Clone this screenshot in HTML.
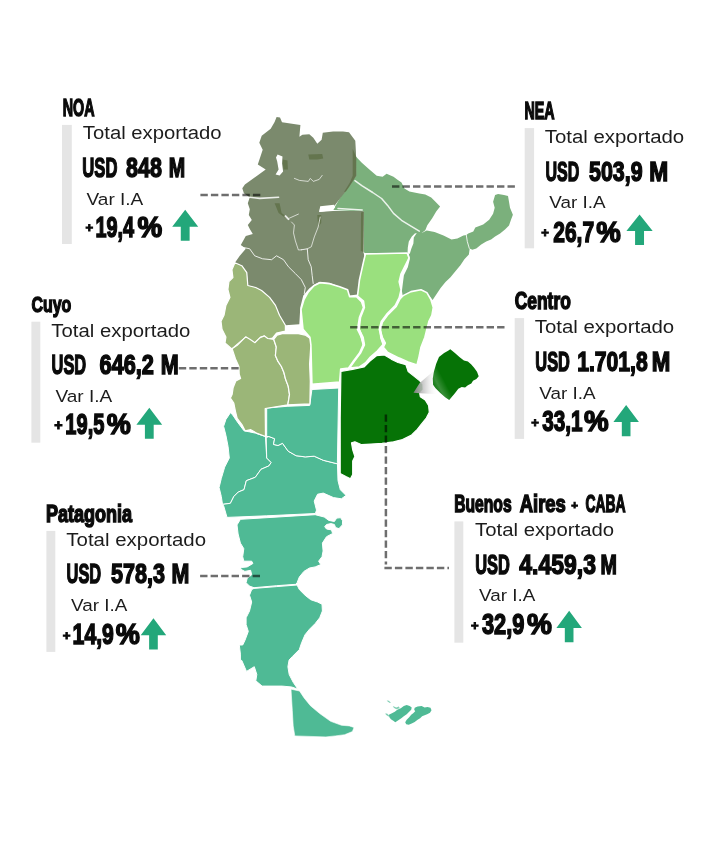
<!DOCTYPE html>
<html lang="es"><head><meta charset="utf-8"><title>Exportaciones por región</title>
<style>
html,body{margin:0;padding:0;background:#fff}
svg{display:block}
text{fill:#0a0a0a;white-space:pre}
.b{font-family:"Liberation Sans",sans-serif;font-weight:700;stroke:#0a0a0a;stroke-width:1.5px;stroke-linejoin:miter}
.r{font-family:"Liberation Sans",sans-serif;font-weight:400;fill:#1c1c1c}
</style></head><body>
<svg width="706" height="849" viewBox="0 0 706 849">
<defs><linearGradient id="cg" gradientUnits="userSpaceOnUse" x1="413.5" y1="0" x2="437.9" y2="0"><stop offset="0" stop-color="#808080" stop-opacity="0.95"/><stop offset="0.3" stop-color="#b5b5b5" stop-opacity="0.9"/><stop offset="0.6" stop-color="#dddddd" stop-opacity="0.7"/><stop offset="1" stop-color="#ffffff" stop-opacity="0"/></linearGradient>
<linearGradient id="hl" gradientUnits="userSpaceOnUse" x1="432.2" y1="386.5" x2="444.1" y2="380.2"><stop offset="0" stop-color="#fff" stop-opacity="0"/><stop offset="0.45" stop-color="#fff" stop-opacity="0.2"/><stop offset="1" stop-color="#fff" stop-opacity="0"/></linearGradient></defs>
<rect width="706" height="849" fill="#fff"/>
<g id="map"><path d="M356.3 156.9 L361.8 162.8 L369.7 169.7 L376.7 175.7 L382.6 176.7 L386.6 173.7 L393.5 176.7 L397.5 179.7 L401.5 182.6 L404.4 188.6 L409.4 191.6 L419.3 193.5 L425.3 194.5 L431.2 197.5 L435.2 201.5 L440.1 206.4 L436.2 211.4 L432.2 218.3 L427.3 225.3 L425.3 230.2 L421.3 233.2 L426.7 230.6 L434.6 232 L443.5 235.5 L451.5 239.5 L457.4 238.5 L463.4 235.5 L466.3 235.1 L468.3 233.5 L473.3 231.6 L475.3 227.6 L483.2 224.6 L489.2 219.7 L493.1 213.7 L494.7 207.8 L493.1 201.8 L495.1 194.9 L498.1 193.9 L504 194.9 L508 195.9 L509 201.8 L510 207.8 L512.9 214.7 L511 219.7 L509 225.6 L505 229.6 L500.1 233.5 L495.1 236.5 L491.1 239.5 L486.2 241.5 L481.2 244.4 L476.3 248.4 L472.3 249.8 L469.7 248.4 L468.9 254.4 L464.4 259.3 L460.4 265.3 L455.4 271.2 L450.5 277.2 L445.5 282.1 L440.6 288.1 L436.6 294 L432.6 300 L428.7 295 L422.7 290.1 L417.8 290.1 L409.8 293 L402.9 297 L401.9 291 L402.9 283.1 L403.9 275.2 L407.8 267.3 L409.8 259.3 L408.8 253.4 L407.4 253 L364.8 253 L363.8 252 L363.8 211.4 L333.1 210.1 L352.9 175.4 L352.9 149.7Z" fill="#7bb07c"/>
<path d="M242.3 188.3 L244.9 184.4 L265.7 169.5 L257.8 164.5 L262.7 149.7 L259.3 142.7 L261.7 135.8 L270.7 128.8 L274.6 121.9 L276.6 116.9 L280 117.5 L282 122.3 L300.4 124.9 L299.4 136.8 L302.4 134.8 L309.3 134.2 L313.3 137.8 L317.3 143.7 L321.6 139.7 L322.8 132.8 L333.1 131.4 L343 131.4 L349 132.2 L355.3 140.7 L355.9 151.6 L356.5 175.4 L349 187.3 L341 197.3 L334.1 206.2 L320.2 207.2 L319.2 212.1 L333.1 211.1 L361.9 211.1 L363.8 211.4 L363.4 252 L364.4 255.9 L362.5 265.9 L359.5 279.7 L357.5 294.6 L349.6 295.6 L347.6 289.7 L339.7 286.7 L329.7 282.7 L319.8 281.7 L313.9 284.7 L309.2 288.5 L303.3 295.4 L300.3 307.3 L299.3 324.2 L285.4 325.2 L279.5 315.3 L275.5 305.4 L269.6 297.4 L261.6 290.5 L255.7 287.5 L247.8 285.5 L246.8 272.6 L241.8 265.7 L234.9 262.7 L239.8 255.8 L245.8 248.8 L240.8 244.9 L245.8 235.9 L252.8 233.9 L249.8 229 L247.8 225 L251.8 220.1 L248.8 215.1 L249.8 209.2 L247.8 203.2 L249.8 197.3 L243.9 193.3Z" fill="#7b8a6d"/>
<path d="M230.4 412.7 L232.7 414.9 L237.2 421.7 L244 430.8 L249.7 431.9 L255.3 433.1 L265.5 436.5 L266.7 458 L271.2 462.5 L268.9 465.9 L261 469.3 L255.3 477.3 L246.3 480.7 L244 489.7 L238.3 492 L233.8 496.5 L230.4 503.3 L222.5 504.4 L221.3 496.5 L219.1 487.5 L221.3 478.4 L224.7 467.1 L229.3 458 L228.1 446.7 L225.9 435.3 L223.6 426.3 L225.9 419.5Z" fill="#4fba95" stroke="#fff" stroke-width="1" stroke-linejoin="round"/>
<path d="M268.9 436.5 L274.6 438.7 L273.5 444.4 L278 445.5 L282.5 443.3 L288.2 451.2 L296.1 455.7 L305.2 456.9 L314.2 456.2 L323.3 460.3 L336.9 463.7 L337.4 462.5 L338 480.7 L340.3 489.7 L346 495.4 L341.4 498.8 L333.5 497.6 L323.3 493.1 L317.6 494.2 L314.2 501 L316.5 510.1 L315.4 513.5 L266.7 515.8 L227 517.4 L223.6 505.6 L222.5 504.4 L230.4 503.3 L233.8 496.5 L238.3 492 L244 489.7 L246.3 480.7 L255.3 477.3 L261 469.3 L268.9 465.9 L271.2 462.5 L266.7 458 L266.2 437.6Z" fill="#4fba95" stroke="#fff" stroke-width="1" stroke-linejoin="round"/>
<path d="M311.9 389.5 L338.7 388 L337.4 462.5 L336.9 463.7 L323.3 460.3 L314.2 456.2 L305.2 456.9 L296.1 455.7 L288.2 451.2 L282.5 443.3 L278 445.5 L273.5 444.4 L274.6 438.7 L268.9 436.5 L266.7 436.5 L266.7 408.1 L287.1 406.3 L309.7 405.4Z" fill="#4fba95" stroke="#fff" stroke-width="1" stroke-linejoin="round"/>
<path d="M240.4 519.3 L315.2 514.7 L324.2 517 L328.8 520.4 L334.4 521.5 L336.7 518.1 L340.6 517.7 L342.6 520.8 L342.4 524.9 L339 528.6 L335.6 527.6 L334.4 524.5 L331 523.6 L326.5 524.5 L324.7 526.7 L326.5 529 L331.5 529.9 L332.6 533.5 L326.5 536.7 L322.4 543.1 L323.1 551 L322 556.7 L318.6 561.2 L320.8 564.6 L315.2 566.9 L309.5 568 L303.9 571.4 L299.3 577.1 L297.1 582.7 L295.9 584.3 L276.7 585.7 L254 587.7 L249.5 586.1 L246.1 582.7 L247.2 578.2 L251.7 574.8 L250.6 570.3 L244.9 571.4 L240.4 569.1 L241.5 567.5 L247.2 566.9 L252.9 563.5 L251.7 561.2 L243.8 561.2 L242.7 556.7 L243.8 548.7 L240.4 543.1 L238.1 534 L237 524.9Z" fill="#4fba95" stroke="#fff" stroke-width="1" stroke-linejoin="round"/>
<path d="M251.7 589.5 L254 588.4 L276.7 586.6 L297.1 585 L299.3 589.5 L305 595.2 L310.7 599.7 L317.5 602 L322 604.2 L322.4 611 L319.7 617.8 L315.2 623.5 L309.5 629.2 L305 634.8 L301.6 642.8 L299.3 649.6 L292.5 656.4 L289.1 660 L287.9 666.7 L289.2 674.5 L293.2 682.3 L297.9 689.2 L291.7 687 L282.3 686.1 L262.1 686.1 L255.8 680.8 L256.8 674.5 L254.3 666.7 L246.5 671.4 L241.8 660.5 L240.4 660 L240.4 654.1 L239.3 645 L242.7 645 L244.9 640.5 L248.3 631.4 L246.1 624.6 L246.1 617.8 L249.5 611 L251.7 602 L249.5 595.2Z" fill="#4fba95" stroke="#fff" stroke-width="1" stroke-linejoin="round"/>
<path d="M291 689.2 L299.5 691 L304.1 697.9 L310.4 705.7 L319.7 713.5 L330.6 721.3 L341.5 725.3 L349.3 725.9 L354 727.5 L352.4 731.6 L344.6 734.7 L335.3 735.9 L325.9 736.9 L294.8 735.9 L293.2 725.9 L292.3 710.4Z" fill="#4fba95" stroke="#fff" stroke-width="0.6" stroke-linejoin="round"/>
<path d="M388.9 714.8 L391.9 713.3 L394.8 711.8 L397.3 709.8 L400.8 708.3 L403.8 705.9 L406.7 704.9 L409.7 705.9 L411.7 707.4 L411.2 709.8 L409.2 711.8 L406.7 714.3 L403.8 716.3 L401.3 718.3 L398.3 720.2 L395.3 722.2 L393.3 720.7 L390.9 719.2 L389.4 717.3Z" fill="#4fba95"/>
<path d="M414.7 707.8 L417.6 706.4 L421.6 705.9 L424.6 707.4 L427.5 706.9 L430.5 707.8 L431.5 710.3 L430 712.8 L427.1 714.3 L424.6 715.3 L422.1 716.3 L420.1 718.3 L417.6 719.7 L414.7 721.9 L411.7 723.5 L408.7 724.7 L406.2 724.2 L405.2 722.2 L406.7 719.7 L409.2 717.3 L411.2 714.8 L413.2 713.3 L415.2 711.3 L414.2 709.8Z" fill="#4fba95"/>
<path d="M386.7 700.4 L388.9 700.7 L390.9 702.7 L389.9 703.1 L387.9 701.7Z" fill="#4fba95" fill-opacity="0.7"/>
<path d="M392.8 705.9 L396.3 707.4 L398.8 706.4 L399.8 708.3 L396.3 709.3 L393.8 707.8Z" fill="#4fba95" fill-opacity="0.7"/>
<path d="M385.4 713.3 L387.4 713.8 L389.9 716.3 L388.4 716.6 L385.9 714.8Z" fill="#4fba95" fill-opacity="0.7"/>
<path d="M234.9 262.7 L241.8 265.7 L246.8 272.6 L247.8 285.5 L255.7 287.5 L261.6 290.5 L269.6 297.4 L275.5 305.4 L279.5 315.3 L285.4 325.2 L285.4 331.1 L276.5 333.1 L272.5 338.1 L267.6 339.1 L264.6 336.1 L260.7 337.1 L254.7 343 L249.7 341 L245.8 337.1 L238.8 343 L231.9 349 L225 343 L225.9 337.1 L222 329.2 L221 321.2 L224 315.3 L225.9 305.4 L229.9 297.4 L227.9 289.5 L228.9 281.6 L232.9 277.6 L231.9 269.7Z" fill="#9bb678" stroke="#fff" stroke-width="1.2" stroke-linejoin="round"/>
<path d="M232.1 348.7 L237.2 345.3 L245.7 336.8 L249.9 339.3 L255 342.7 L260.1 337.6 L264.4 335.9 L267.8 338.5 L273.7 339.3 L276.3 347 L275.4 355.5 L278 361.4 L281.4 366.5 L283.9 372.5 L285.6 379.3 L288.2 386.1 L289.5 394.6 L287.8 404.8 L265.2 408.5 L265.5 436.5 L256.5 433.1 L250.8 429.7 L245.1 430.8 L242.3 425.2 L237.2 418.4 L235.5 411.6 L233.8 403.1 L230.4 398 L232.1 394.6 L233.1 387.8 L235.8 381 L240.6 378.4 L239.2 374.2 L238.9 366.5 L235.5 358.9Z" fill="#9bb678" stroke="#fff" stroke-width="1.2" stroke-linejoin="round"/>
<path d="M273.7 339.3 L277.1 335.1 L283.1 333.4 L298.4 333.7 L305.2 335.1 L310.3 338.5 L312 343.6 L310.6 348.7 L309.6 364 L310.3 381 L309.9 403.9 L287.8 404.8 L289.5 394.6 L288.2 386.1 L285.6 379.3 L283.9 372.5 L281.4 366.5 L278 361.4 L275.4 355.5 L276.3 347Z" fill="#9bb678" stroke="#fff" stroke-width="1.2" stroke-linejoin="round"/>
<path d="M313.9 285.7 L319.8 282.7 L329.7 283.7 L339.7 286.7 L347.6 289.7 L349.6 296.6 L356.5 296.6 L361.5 301.6 L363.5 307.5 L359.5 317.4 L357.5 329.3 L361.5 337.3 L363.5 344.2 L359.5 353.1 L353.5 361 L348.6 368 L340.7 369 L339.7 382.1 L311.9 384.2 L310.9 345.2 L309.9 337.3 L303 329.3 L301 309.5 L304 299.6 L307.9 292.6Z" fill="#9ae07e" stroke="#fff" stroke-width="1.6" stroke-linejoin="round"/>
<path d="M365.4 254 L407.1 253 L409.1 257.9 L405.1 265.9 L401.1 273.8 L399.2 281.7 L401.1 289.7 L399.2 297.6 L395.2 305.5 L387.3 313.5 L381.3 321.4 L379.3 329.3 L381.3 337.3 L383.3 344.2 L377.3 351.1 L370.4 357.1 L365.4 363 L359.5 367 L349.6 368 L354.5 361 L360.5 353.1 L364.4 344.8 L363.1 337.3 L359.1 329.3 L360.5 317.4 L364.4 307.5 L363.5 301.2 L357.5 296 L359.5 279.7 L363.5 261.9Z" fill="#9ae07e" stroke="#fff" stroke-width="1.6" stroke-linejoin="round"/>
<path d="M403.1 295.6 L411 291.6 L421 289.7 L426.9 292.6 L430.9 299.6 L433.3 307.5 L431.9 315.4 L428.9 321.4 L426.9 329.3 L424.9 337.3 L421 347.2 L419 357.1 L417 365 L408.1 362 L399.2 358.1 L393.2 355.1 L387.3 352.1 L383.3 347.2 L385.3 343.2 L382.3 337.3 L380.3 330.3 L382.3 322.4 L388.2 314.4 L396.2 306.5 L400.1 298.6Z" fill="#9ae07e" stroke="#fff" stroke-width="1.6" stroke-linejoin="round"/>
<path d="M340.9 371.5 L352.7 369.3 L364 367 L369.7 361.3 L376.5 355.7 L384.4 355 L391.2 359.1 L398 362.5 L405.9 364.7 L408.2 371.5 L413.9 376.1 L419.5 380.6 L422.9 384 L423.1 389.9 L419.7 393.5 L420.3 396.7 L425.2 399.9 L428.6 405.5 L429.3 412.3 L426.3 418 L421.8 423.7 L417.3 429.3 L411.6 435 L402.5 439.5 L393.5 441.8 L382.1 443.4 L370.8 444.1 L361.7 444.7 L354.9 441.8 L351.5 442.9 L352.7 449.7 L354.9 456.5 L352.7 461 L352.7 467.8 L352.7 474.6 L350.4 478.7 L345.9 476.5 L340.2 473.5 L340.2 418Z" fill="#067306" stroke="#fff" stroke-width="1.2" stroke-linejoin="round"/>
<path d="M413.5 392.7 L419.7 383.1 L433.3 371.2 L432.8 378.5 L433.1 384.8 L435.6 388.2 L439 394.2 L419.7 393.3Z" fill="url(#cg)"/>
<path d="M450.3 349.3 L454.9 353 L459.4 357 L463.9 360.4 L467.9 361.5 L471.3 364.4 L474.1 367.8 L477 371.7 L478.7 376.3 L476.4 379.1 L473 380.8 L471.3 383.6 L467.9 385.3 L465.1 387.6 L461.7 387 L458.3 388.7 L454.9 393.3 L451.5 397.2 L449.2 400.1 L445.2 397.2 L440.1 392.7 L435.6 388.2 L433.1 384.8 L432.8 378.5 L433.9 371.7 L436.2 363.8 L439 357 L444.1 353 L448.1 350.8Z" fill="#067306"/>
<path d="M450.3 349.3 L454.9 353 L459.4 357 L463.9 360.4 L467.9 361.5 L471.3 364.4 L474.1 367.8 L477 371.7 L478.7 376.3 L476.4 379.1 L473 380.8 L471.3 383.6 L467.9 385.3 L465.1 387.6 L461.7 387 L458.3 388.7 L454.9 393.3 L451.5 397.2 L449.2 400.1 L445.2 397.2 L440.1 392.7 L435.6 388.2 L433.1 384.8 L432.8 378.5 L433.9 371.7 L436.2 363.8 L439 357 L444.1 353 L448.1 350.8Z" fill="url(#hl)"/>
<path d="M352.7 148.9 L356.3 156.9 L355.9 175.7 L351.9 182.6 L345.9 191.6 L344 192 L349.9 182.6 L352.7 175.7Z" fill="#5c6e44" fill-opacity="0.75"/>
<path d="M361 212.4 L363.8 211.4 L363.4 252 L360.8 251Z" fill="#5c6e44" fill-opacity="0.75"/>
<path d="M308.3 154.6 L322.2 154 L323.2 158.6 L317.3 159.6 L309.3 159.6Z" fill="#5c6e44" fill-opacity="0.75"/>
<path d="M282.5 159.6 L287.5 160.6 L287.9 169.5 L283.5 169.5Z" fill="#5c6e44" fill-opacity="0.75"/>
<path d="M274.6 203.2 L279.6 203.2 L281.6 213.1 L285.5 216.1 L289.5 219.1 L285.5 218.1 L278.6 213.1Z" fill="#5c6e44" fill-opacity="0.75"/>
<path d="M317.3 215.1 L321.2 215.1 L321.2 223 L318.2 227Z" fill="#5c6e44" fill-opacity="0.75"/>
<path d="M294.4 178.4 L299.4 180.4 L308.3 181.4 L310.3 178.4 L313.3 181.4 L319.2 179.4 L322.2 175.4" stroke="#fff" stroke-opacity="0.85" stroke-width="0.8" fill="none" stroke-linejoin="round" stroke-linecap="round"/>
<path d="M249.8 197.3 L259.7 198.4 L278.6 197.3" stroke="#fff" stroke-opacity="0.85" stroke-width="1.6" fill="none" stroke-linejoin="round" stroke-linecap="round"/>
<path d="M285.5 216.1 L288.5 219.1" stroke="#fff" stroke-opacity="0.85" stroke-width="2" fill="none" stroke-linejoin="round" stroke-linecap="round"/>
<path d="M289.5 218.1 L298.4 214.1" stroke="#fff" stroke-opacity="0.85" stroke-width="0.8" fill="none" stroke-linejoin="round" stroke-linecap="round"/>
<path d="M291.5 222 L294.4 225 L293.5 232.9 L295.4 240.9 L298.4 250 L301.3 249.8" stroke="#fff" stroke-opacity="0.85" stroke-width="0.8" fill="none" stroke-linejoin="round" stroke-linecap="round"/>
<path d="M320.2 217.1 L318.2 227 L314.3 236.9 L311.3 246.8 L307.3 248.8" stroke="#fff" stroke-opacity="0.85" stroke-width="0.8" fill="none" stroke-linejoin="round" stroke-linecap="round"/>
<path d="M240.8 246.9 L249.7 248.8 L254.7 255.8 L262.6 258.8 L271.6 259.7 L276.5 255.8 L283.5 259.7 L288.4 266.7 L295.4 273.6 L301.3 279.6 L305.3 287.5 L304.3 293.5" stroke="#fff" stroke-opacity="0.85" stroke-width="1" fill="none" stroke-linejoin="round" stroke-linecap="round"/>
<path d="M301.3 249.8 L307.3 248.8 L308.2 259.7 L311.2 266.7 L312.2 275.6 L313.2 283.5" stroke="#fff" stroke-opacity="0.85" stroke-width="1" fill="none" stroke-linejoin="round" stroke-linecap="round"/>
<path d="M354.9 180.7 L361.8 185.6 L372.7 192.5 L381.6 198.5 L387.6 205.4 L393.5 213.4 L401.5 220.3 L411.4 226.3 L419.3 231.2" stroke="#fff" stroke-opacity="0.85" stroke-width="1.5" fill="none" stroke-linejoin="round" stroke-linecap="round"/>
<path d="M466.3 235.1 L467.3 241.5 L469.3 248.4" stroke="#fff" stroke-opacity="0.85" stroke-width="1" fill="none" stroke-linejoin="round" stroke-linecap="round"/>
<path d="M338 208.6 L362.2 210" stroke="#fff" stroke-opacity="0.85" stroke-width="1.5" fill="none" stroke-linejoin="round" stroke-linecap="round"/>
<path d="M277.6 154.6 L282.5 156.6 L282 163.5 L283.1 171.5 L279.6 175.4 L275.6 174.4 L278.6 169.5 L277.2 161.6 L276 157.6Z" fill="#fff"/>
<path d="M320.2 206.2 L334.1 204.8 L335.1 207.2 L333.1 210.1 L319.2 212.1Z" fill="#fff"/>
<path d="M416.8 233.1 L413.8 237.5 L413.4 243.5 L411.4 248.4 L409.8 253.8 L407.5 253.8 L407.8 247.4 L408.8 241.5 L411.8 236.5 L414.8 233.5Z" fill="#fff"/>
<path d="M357.9 328.3 L359.5 327.7 L363.1 337.3 L364.8 344.8 L363.1 347.6 L360.7 338.2Z" fill="#fff"/>
<path d="M379.1 328.3 L380.9 328.3 L382.5 337.3 L385.1 343.6 L382.9 346 L380.1 338.2Z" fill="#fff"/>
</g>
<g id="leaders">
<path d="M200.4 195.1 H260.7" stroke="#000" stroke-opacity="0.57" stroke-width="2.5" stroke-dasharray="7.4 3.1" fill="none"/>
<path d="M514.9 186.5 H391" stroke="#000" stroke-opacity="0.57" stroke-width="2.5" stroke-dasharray="7.4 3.1" fill="none"/>
<path d="M178.8 368.2 H240" stroke="#000" stroke-opacity="0.57" stroke-width="2.5" stroke-dasharray="7.4 3.1" fill="none"/>
<path d="M504.5 327.3 H350" stroke="#000" stroke-opacity="0.57" stroke-width="2.5" stroke-dasharray="7.4 3.1" fill="none"/>
<path d="M200.1 576 H261" stroke="#000" stroke-opacity="0.57" stroke-width="2.5" stroke-dasharray="7.4 3.1" fill="none"/>
<path d="M385.9 414.4 V564.5" stroke="#000" stroke-opacity="0.57" stroke-width="2.5" stroke-dasharray="7.4 3.1" fill="none"/>
<path d="M384.4 568.1 H449" stroke="#000" stroke-opacity="0.57" stroke-width="2.5" stroke-dasharray="7.4 3.1" fill="none"/>
</g>
<g id="labels" xml:space="preserve">
<text class="b" x="62.72" y="115.85" font-size="24.29" textLength="31.72" lengthAdjust="spacingAndGlyphs">NOA</text>
<rect x="62" y="124.9" width="9.8" height="119.1" fill="#e5e5e5"/>
<text class="r" x="82.89" y="139.40" font-size="18.41" textLength="138.68" lengthAdjust="spacingAndGlyphs">Total exportado</text>
<text class="b" x="82.35" y="177.35" font-size="28.14" textLength="35.09" lengthAdjust="spacingAndGlyphs">USD</text>
<text class="b" x="126.11" y="177.35" font-size="28.14" textLength="35.87" lengthAdjust="spacingAndGlyphs">848</text>
<text class="b" x="168.77" y="177.35" font-size="28.14" textLength="16.42" lengthAdjust="spacingAndGlyphs">M</text>
<text class="r" x="86.50" y="204.80" font-size="16.52" textLength="56.84" lengthAdjust="spacingAndGlyphs">Var I.A</text>
<text class="b" x="85.38" y="232.37" font-size="13.07" style="stroke-width:1.0px">+</text>
<text class="b" x="95.46" y="236.75" font-size="28.86" textLength="38.72" lengthAdjust="spacingAndGlyphs">19,4</text>
<text class="b" x="137.46" y="236.75" font-size="28.86" textLength="24.66" lengthAdjust="spacingAndGlyphs">%</text>
<path transform="translate(172.2 209.7)" d="M13.00 0 L26.00 16.95 H17.42 V31.10 H8.58 V16.95 H0Z" fill="#23a77a"/>
<text class="b" x="524.52" y="119.25" font-size="23.43" textLength="30.10" lengthAdjust="spacingAndGlyphs">NEA</text>
<rect x="524.7" y="128.1" width="9.4" height="120.2" fill="#e5e5e5"/>
<text class="r" x="544.69" y="143.40" font-size="18.41" textLength="139.49" lengthAdjust="spacingAndGlyphs">Total exportado</text>
<text class="b" x="545.39" y="181.25" font-size="28.14" textLength="33.82" lengthAdjust="spacingAndGlyphs">USD</text>
<text class="b" x="589.01" y="181.25" font-size="28.14" textLength="53.54" lengthAdjust="spacingAndGlyphs">503,9</text>
<text class="b" x="649.37" y="181.25" font-size="28.14" textLength="18.92" lengthAdjust="spacingAndGlyphs">M</text>
<text class="r" x="549.31" y="208.00" font-size="16.52" textLength="56.24" lengthAdjust="spacingAndGlyphs">Var I.A</text>
<text class="b" x="541.28" y="237.16" font-size="13.07" style="stroke-width:1.0px">+</text>
<text class="b" x="553.21" y="241.75" font-size="29.57" textLength="40.90" lengthAdjust="spacingAndGlyphs">26,7</text>
<text class="b" x="596.16" y="241.75" font-size="29.57" textLength="24.56" lengthAdjust="spacingAndGlyphs">%</text>
<path transform="translate(626.4 214.4)" d="M13.15 0 L26.30 16.68 H17.62 V30.60 H8.68 V16.68 H0Z" fill="#23a77a"/>
<text class="b" x="31.51" y="312.25" font-size="22.71" textLength="39.77" lengthAdjust="spacingAndGlyphs">Cuyo</text>
<rect x="31.4" y="321.7" width="8.9" height="121" fill="#e5e5e5"/>
<text class="r" x="51.39" y="337.00" font-size="18.12" textLength="138.98" lengthAdjust="spacingAndGlyphs">Total exportado</text>
<text class="b" x="51.57" y="374.25" font-size="28.14" textLength="34.56" lengthAdjust="spacingAndGlyphs">USD</text>
<text class="b" x="99.49" y="374.25" font-size="28.14" textLength="54.49" lengthAdjust="spacingAndGlyphs">646,2</text>
<text class="b" x="160.75" y="374.25" font-size="28.14" textLength="17.97" lengthAdjust="spacingAndGlyphs">M</text>
<text class="r" x="55.50" y="401.90" font-size="16.67" textLength="56.74" lengthAdjust="spacingAndGlyphs">Var I.A</text>
<text class="b" x="54.23" y="430.27" font-size="14.26" style="stroke-width:1.0px">+</text>
<text class="b" x="65.35" y="434.25" font-size="28.86" textLength="39.03" lengthAdjust="spacingAndGlyphs">19,5</text>
<text class="b" x="106.67" y="434.25" font-size="28.86" textLength="24.03" lengthAdjust="spacingAndGlyphs">%</text>
<path transform="translate(136.4 407.7)" d="M12.90 0 L25.80 16.95 H17.29 V31.10 H8.51 V16.95 H0Z" fill="#23a77a"/>
<text class="b" x="514.75" y="309.25" font-size="23.71" textLength="56.03" lengthAdjust="spacingAndGlyphs">Centro</text>
<rect x="514.7" y="318.1" width="9.4" height="120.8" fill="#e5e5e5"/>
<text class="r" x="534.69" y="333.40" font-size="17.68" textLength="139.49" lengthAdjust="spacingAndGlyphs">Total exportado</text>
<text class="b" x="535.37" y="371.25" font-size="28.14" textLength="34.56" lengthAdjust="spacingAndGlyphs">USD</text>
<text class="b" x="577.18" y="371.25" font-size="28.14" textLength="70.53" lengthAdjust="spacingAndGlyphs">1.701,8</text>
<text class="b" x="651.70" y="371.25" font-size="28.14" textLength="18.57" lengthAdjust="spacingAndGlyphs">M</text>
<text class="r" x="539.31" y="399.10" font-size="16.23" textLength="56.24" lengthAdjust="spacingAndGlyphs">Var I.A</text>
<text class="b" x="531.28" y="426.62" font-size="13.07" style="stroke-width:1.0px">+</text>
<text class="b" x="542.23" y="430.95" font-size="28.71" textLength="40.36" lengthAdjust="spacingAndGlyphs">33,1</text>
<text class="b" x="584.06" y="430.95" font-size="28.71" textLength="24.66" lengthAdjust="spacingAndGlyphs">%</text>
<path transform="translate(613.4 405)" d="M12.75 0 L25.50 17.06 H17.09 V31.30 H8.42 V17.06 H0Z" fill="#23a77a"/>
<text class="b" x="45.98" y="521.75" font-size="23.43" textLength="86.17" lengthAdjust="spacingAndGlyphs">Patagonia</text>
<rect x="46.4" y="530.9" width="8.9" height="121" fill="#e5e5e5"/>
<text class="r" x="66.39" y="546.00" font-size="18.12" textLength="139.69" lengthAdjust="spacingAndGlyphs">Total exportado</text>
<text class="b" x="66.57" y="583.45" font-size="28.43" textLength="34.56" lengthAdjust="spacingAndGlyphs">USD</text>
<text class="b" x="111.00" y="583.45" font-size="28.43" textLength="53.96" lengthAdjust="spacingAndGlyphs">578,3</text>
<text class="b" x="171.46" y="583.45" font-size="28.43" textLength="17.85" lengthAdjust="spacingAndGlyphs">M</text>
<text class="r" x="71.01" y="610.60" font-size="16.67" textLength="56.24" lengthAdjust="spacingAndGlyphs">Var I.A</text>
<text class="b" x="62.87" y="639.72" font-size="13.27" style="stroke-width:1.0px">+</text>
<text class="b" x="72.58" y="644.25" font-size="29.57" textLength="41.35" lengthAdjust="spacingAndGlyphs">14,9</text>
<text class="b" x="115.77" y="644.25" font-size="29.57" textLength="24.13" lengthAdjust="spacingAndGlyphs">%</text>
<path transform="translate(140.7 618.2)" d="M12.75 0 L25.50 17.00 H17.09 V31.20 H8.42 V17.00 H0Z" fill="#23a77a"/>
<text class="b" x="454.13" y="511.75" font-size="23.43" textLength="57.48" lengthAdjust="spacingAndGlyphs">Buenos</text>
<text class="b" x="519.69" y="511.75" font-size="23.43" textLength="46.13" lengthAdjust="spacingAndGlyphs">Aires</text>
<text class="b" x="571.24" y="508.50" font-size="11.49" style="stroke-width:1.0px">+</text>
<text class="b" x="585.39" y="511.75" font-size="23.43" textLength="40.26" lengthAdjust="spacingAndGlyphs">CABA</text>
<rect x="454.4" y="521.4" width="8.9" height="121.3" fill="#e5e5e5"/>
<text class="r" x="475.09" y="536.20" font-size="17.68" textLength="138.98" lengthAdjust="spacingAndGlyphs">Total exportado</text>
<text class="b" x="475.26" y="573.85" font-size="28.29" textLength="34.66" lengthAdjust="spacingAndGlyphs">USD</text>
<text class="b" x="519.31" y="573.85" font-size="28.29" textLength="76.68" lengthAdjust="spacingAndGlyphs">4.459,3</text>
<text class="b" x="600.47" y="573.85" font-size="28.29" textLength="16.42" lengthAdjust="spacingAndGlyphs">M</text>
<text class="r" x="479.01" y="601.10" font-size="16.23" textLength="56.24" lengthAdjust="spacingAndGlyphs">Var I.A</text>
<text class="b" x="470.98" y="629.87" font-size="13.07" style="stroke-width:1.0px">+</text>
<text class="b" x="481.90" y="634.25" font-size="28.86" textLength="42.64" lengthAdjust="spacingAndGlyphs">32,9</text>
<text class="b" x="527.05" y="634.25" font-size="28.86" textLength="24.87" lengthAdjust="spacingAndGlyphs">%</text>
<path transform="translate(556.4 610.8)" d="M12.75 0 L25.50 17.11 H17.09 V31.40 H8.42 V17.11 H0Z" fill="#23a77a"/>
</g>
</svg>
</body></html>
